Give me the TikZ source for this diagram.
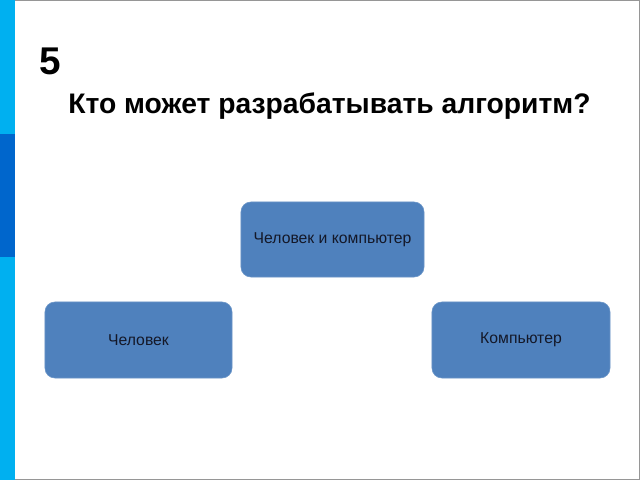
\documentclass[tikz,border=0pt]{standalone}
\usepackage{fontspec}
\setmainfont{Liberation Sans}
\usetikzlibrary{positioning}
\definecolor{stripe}{RGB}{0,176,240}
\definecolor{stripedark}{RGB}{0,102,204}
\definecolor{frame}{RGB}{150,150,150}
\definecolor{boxblue}{RGB}{79,129,189}
\definecolor{boxtext}{RGB}{20,24,40}

\tikzset{
  answer/.style={rectangle, rounded corners=7pt, fill=boxblue, draw=boxblue!85!white,
    text=boxtext, font=\fontsize{11.2}{13}\selectfont, align=center},
}

\begin{document}
\begin{tikzpicture}[x=0.025cm, y=-0.025cm]

    \useasboundingbox (0,0) rectangle (640,480);
    \fill[white] (0,0) rectangle (640,480);

    % slide frame and left stripe
    \draw[frame, line width=1.2pt] (0,0) -- (639.5,0) -- (639.5,479.5) -- (0,479.5);
    \fill[stripe] (0,0) rectangle (15,480);
    \fill[stripedark] (0,134) rectangle (15,257);

    \node[anchor=base west, inner sep=0pt, font=\fontsize{27.5}{30}\selectfont\bfseries] (num) at (39,74) {5};
    \node[anchor=base west, inner sep=0pt, font=\fontsize{20.1}{24}\selectfont\bfseries] (question) at (68,113) {Кто может разрабатывать алгоритм?};

    \node[answer, minimum width=4.575cm, minimum height=1.875cm] (both) at (332.5,239.5) {Человек и компьютер};
    \node[answer, minimum width=4.675cm, minimum height=1.9cm] (human) at (138.5,340) {Человек};
    \node[answer, minimum width=4.45cm, minimum height=1.9cm] (computer) at (521,340) {Компьютер};

\end{tikzpicture}
\end{document}
